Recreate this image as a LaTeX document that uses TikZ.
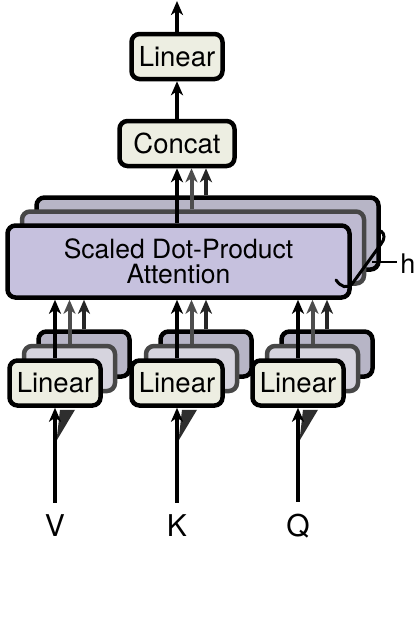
\documentclass[tikz,border=0pt]{standalone}
\usepackage{fontspec}
\setmainfont{TeX Gyre Heros}
\usetikzlibrary{arrows.meta,calc}
\definecolor{cream}{HTML}{EDEEE2}
\definecolor{lav}{HTML}{C6C1DE}
\definecolor{lavmid}{HTML}{BEBAD1}
\definecolor{lavlinmid}{HTML}{D6D4DE}
\definecolor{grayback}{HTML}{B7B5C6}
\definecolor{midborder}{HTML}{474747}
\definecolor{midarrow}{HTML}{4D4D4D}
\begin{document}
\begin{tikzpicture}[x=1pt,y=-1pt,
  boxbase/.style={line width=4.5pt, rounded corners=8pt, inner sep=0pt, align=center},
  linfront/.style={boxbase, draw=black, fill=cream, minimum width=91pt, minimum height=45pt, font=\fontsize{27.5}{30}\selectfont},
  linmid/.style={boxbase, draw=midborder, fill=lavlinmid, minimum width=91pt, minimum height=45pt},
  linback/.style={boxbase, draw=black, fill=grayback, minimum width=91pt, minimum height=45pt},
  attfront/.style={boxbase, draw=black, fill=lav, minimum width=342pt, minimum height=72pt, font=\fontsize{26.5}{25.5}\selectfont},
  attmid/.style={boxbase, draw=midborder, fill=lavmid, minimum width=342pt, minimum height=72pt},
  attback/.style={boxbase, draw=black, fill=grayback, minimum width=342pt, minimum height=72pt},
  arr/.style={line width=4pt, -{Stealth[length=14pt,width=12pt,inset=4pt]}},
  arrblack/.style={arr, draw=black},
  arrgray/.style={arr, draw=midarrow},
  arrdark/.style={arr, draw=black!85},
  label/.style={font=\fontsize{30}{30}\selectfont, inner sep=0pt},
  wedge/.style={fill=black!82, draw=none}
]
\useasboundingbox (0,0) rectangle (418,641);

% top
\node[linfront] (lintop) at (177,56.5) {Linear};
\node[linfront, minimum width=115pt] (concat) at (177,143.5) {Concat};
\coordinate (out) at (177,1);
\draw[arrblack] (lintop.north) -- (out);
\draw[arrblack] (concat.north) -- (lintop.south);

% scaled dot-product attention stack
\node[attback] (attb) at (207.5,233.5) {};
\node[attmid] (attm) at (193,247.5) {};
\node[attfront] (att) at (178.5,261.5) {Scaled Dot-Product\\Attention};

\coordinate (c1) at (concat.south);
\coordinate (c2) at ($(concat.south)+(14.5,0)$);
\coordinate (c3) at ($(concat.south)+(29,0)$);
\draw[arrblack] (c1 |- att.north) -- (c1);
\draw[arrgray] (c2 |- attm.north) -- (c2);
\draw[arrdark] (c3 |- attb.north) -- (c3);

% h brace
\draw[line width=3pt, line cap=round] (336,280) .. controls (341,287) and (347,289) .. (352,284) -- (381,244) .. controls (385,239) and (385,234) .. (381,231);
\node[font=\fontsize{27}{27}\selectfont, inner sep=0pt] (hlab) at (408,264) {h};
\coordinate (hl) at (372,262);
\draw[line width=2.5pt] (hl) -- ($(hlab.west |- hl)+(-3,0)$);

% linear stacks
\foreach \n/\x/\lab in {1/55/V, 2/177/K, 3/298/Q}{
  \node[linback] (lb\n) at (\x+29,354) {};
  \node[linmid] (lm\n) at (\x+14.5,368.5) {};
  \node[linfront] (lf\n) at (\x,383) {Linear};
  \draw[arrblack] (lf\n.north) -- (lf\n.north |- att.south);
  \draw[arrgray] (lm\n.north) -- (lm\n.north |- att.south);
  \draw[arrdark] (lb\n.north) -- (lb\n.north |- att.south);
  \node[label] (in\n) at (\x,526) {\lab};
  \fill[wedge] ($(lf\n.south)+(1.5,33)$) -- ($(lf\n.south)+(5,2)$) -- ($(lf\n.south)+(20,2)$) -- cycle;
  \draw[arrblack] ($(in\n.north)+(0,-12)$) -- (lf\n.south);
}
\end{tikzpicture}
\end{document}
